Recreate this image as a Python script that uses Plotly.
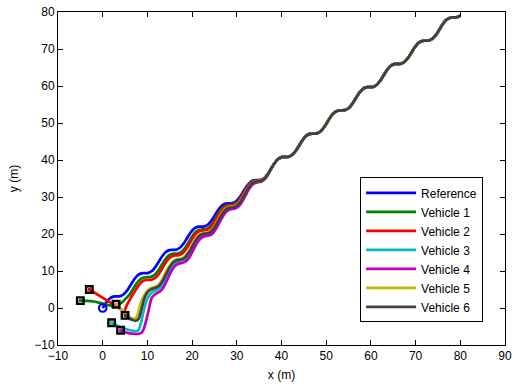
import plotly.graph_objects as go

# Reference trajectory
REF_X = [0.00, 0.79, 1.57, 2.36, 3.14, 3.93, 4.71, 5.50, 6.28, 7.07, 7.85, 8.64, 9.42, 10.21, 11.00, 11.78,
         12.57, 13.35, 14.14, 14.92, 15.71, 16.49, 17.28, 18.06, 18.85, 19.63, 20.42, 21.21, 21.99, 22.78,
         23.56, 24.35, 25.13, 25.92, 26.70, 27.49, 28.27, 29.06, 29.85, 30.63, 31.42, 32.20, 32.99, 33.77,
         34.56, 35.34, 36.13, 36.91, 37.70, 38.48, 39.27, 40.06, 40.84, 41.63, 42.41, 43.20, 43.98, 44.77,
         45.55, 46.34, 47.12, 47.91, 48.69, 49.48, 50.27, 51.05, 51.84, 52.62, 53.41, 54.19, 54.98, 55.76,
         56.55, 57.33, 58.12, 58.90, 59.69, 60.48, 61.26, 62.05, 62.83, 63.62, 64.40, 65.19, 65.97, 66.76,
         67.54, 68.33, 69.12, 69.90, 70.69, 71.47, 72.26, 73.04, 73.83, 74.61, 75.40, 76.18, 76.97, 77.75,
         78.54, 79.33, 80.00]
REF_Y = [0.00, 1.50, 2.57, 3.07, 3.14, 3.22, 3.71, 4.79, 6.28, 7.78, 8.85, 9.35, 9.42, 9.50, 10.00, 11.07,
         12.57, 14.06, 15.14, 15.63, 15.71, 15.78, 16.28, 17.35, 18.85, 20.34, 21.42, 21.92, 21.99, 22.07,
         22.56, 23.64, 25.13, 26.63, 27.70, 28.20, 28.27, 28.35, 28.85, 29.92, 31.42, 32.91, 33.99, 34.48,
         34.56, 34.63, 35.13, 36.20, 37.70, 39.19, 40.27, 40.77, 40.84, 40.92, 41.41, 42.49, 43.98, 45.48,
         46.55, 47.05, 47.12, 47.20, 47.69, 48.77, 50.27, 51.76, 52.84, 53.33, 53.41, 53.48, 53.98, 55.05,
         56.55, 58.04, 59.12, 59.62, 59.69, 59.77, 60.26, 61.34, 62.83, 64.33, 65.40, 65.90, 65.97, 66.05,
         66.54, 67.62, 69.12, 70.61, 71.69, 72.18, 72.26, 72.33, 72.83, 73.90, 75.40, 76.89, 77.97, 78.46,
         78.54, 78.62, 79.01]
TAIL_START = 48  # vehicles have joined the reference path from here on

# Vehicle transients (before they merge onto the reference)
V1_X = [-5.0, -3.5, -2.0, -0.5, 1.0, 2.3, 3.3, 4.3, 5.2, 6.05, 6.83, 7.62, 8.40, 9.19, 9.97, 10.76, 11.55,
        12.33, 13.12, 13.89, 14.67, 15.43, 16.21, 16.98, 17.76, 18.53, 19.30, 20.06, 20.83, 21.61, 22.37,
        23.13, 23.89, 24.65, 25.41, 26.18, 26.94, 27.71, 28.47, 29.24, 30.01, 30.78, 31.55, 32.31, 33.08,
        33.84, 34.61, 35.38, 36.16, 36.92]
V1_Y = [2.0, 1.95, 1.75, 1.35, 0.85, 0.55, 0.75, 1.5, 2.6, 3.69, 5.18, 6.68, 7.75, 8.25, 8.32, 8.40, 8.90,
        9.97, 11.47, 12.99, 14.09, 14.61, 14.71, 14.80, 15.33, 16.42, 17.95, 19.48, 20.60, 21.13, 21.24,
        21.37, 21.91, 23.04, 24.58, 26.12, 27.22, 27.76, 27.87, 27.99, 28.53, 29.63, 31.17, 32.70, 33.81,
        34.34, 34.46, 34.56, 35.08, 36.18]

V2_X = [-3.0, 0.5, 3.5, 4.8, 5.4, 6.40, 7.18, 7.97, 8.75, 9.54, 10.32, 11.10, 11.88, 12.65, 13.42, 14.18,
        14.94, 15.70, 16.46, 17.22, 17.98, 18.74, 19.50, 20.25, 21.01, 21.77, 22.52, 23.28, 24.03, 24.78,
        25.53, 26.29, 27.04, 27.80, 28.55, 29.31, 30.08, 30.83, 31.60, 32.35, 33.12, 33.87, 34.64, 35.40,
        36.17, 36.93]
V2_Y = [5.0, 2.41, 0.18, -0.8, 0.8, 2.99, 4.48, 5.98, 7.05, 7.55, 7.62, 7.72, 8.25, 9.34, 10.87, 12.41,
        13.54, 14.08, 14.21, 14.33, 14.88, 16.00, 17.55, 19.10, 20.24, 20.81, 20.94, 21.08, 21.63, 22.78,
        24.33, 25.89, 27.02, 27.59, 27.72, 27.85, 28.40, 29.52, 31.07, 32.61, 33.74, 34.28, 34.41, 34.52,
        35.05, 36.16]

V3_X = [2.0, 3.2, 4.5, 5.8, 7.0, 7.9, 8.5, 9.1, 9.87, 10.50, 11.14, 11.77, 12.44, 13.10, 13.78, 14.47,
        15.18, 15.89, 16.60, 17.31, 18.03, 18.76, 19.47, 20.20, 20.92, 21.65, 22.37, 23.09, 23.82, 24.54,
        25.26, 25.98, 26.71, 27.43, 28.15, 28.87, 29.61, 30.35, 31.08, 31.82, 32.55, 33.29, 34.02, 34.76,
        35.49, 36.23, 36.96]
V3_Y = [-4.0, -4.7, -5.4, -5.9, -6.2, -6.1, -4.4, -1.1, 2.18, 3.55, 4.35, 4.72, 5.05, 5.80, 7.07, 8.77,
        10.41, 11.64, 12.28, 12.51, 12.71, 13.33, 14.53, 16.15, 17.77, 18.97, 19.60, 19.79, 20.00, 20.61,
        21.82, 23.43, 25.06, 26.25, 26.88, 27.07, 27.25, 27.85, 29.02, 30.62, 32.21, 33.39, 33.98, 34.16,
        34.33, 34.93, 36.10]

V4_X = [4.0, 5.0, 6.0, 7.0, 8.0, 8.7, 9.2, 9.7, 10.3, 10.95, 11.54, 12.12, 12.76, 13.40, 14.03, 14.70,
        15.38, 16.09, 16.80, 17.51, 18.22, 18.93, 19.64, 20.35, 21.07, 21.80, 22.53, 23.25, 23.98, 24.70,
        25.42, 26.13, 26.86, 27.58, 28.31, 29.03, 29.76, 30.49, 31.21, 31.94, 32.66, 33.39, 34.11, 34.84,
        35.55, 36.27, 36.98]
V4_Y = [-6.0, -6.55, -6.85, -7.0, -7.0, -6.7, -5.6, -3.5, -0.5, 2.65, 3.55, 4.02, 4.40, 5.20, 6.57, 8.32,
        10.01, 11.24, 11.88, 12.11, 12.33, 12.98, 14.20, 15.85, 17.46, 18.66, 19.28, 19.47, 19.67, 20.29,
        21.50, 23.13, 24.75, 25.94, 26.56, 26.75, 26.95, 27.57, 28.76, 30.38, 31.99, 33.19, 33.80, 34.00,
        34.21, 34.85, 36.06]

V5_X = [3.0, 3.8, 4.6, 5.4, 6.2, 7.0, 7.6, 8.05, 8.58, 9.27, 9.95, 10.64, 11.32, 12.01, 12.70, 13.38,
        14.07, 14.80, 15.54, 16.25, 16.96, 17.69, 18.43, 19.16, 19.90, 20.63, 21.37, 22.11, 22.84, 23.58,
        24.31, 25.05, 25.78, 26.52, 27.25, 27.99, 28.72, 29.47, 30.23, 30.97, 31.72, 32.46, 33.22, 33.96,
        34.71, 35.45, 36.21, 36.95]
V5_Y = [1.0, 0.1, -0.9, -1.9, -2.6, -2.9, -2.4, -0.7, 1.68, 3.38, 4.65, 5.35, 5.62, 5.90, 6.60, 7.87,
        9.57, 11.16, 12.34, 12.98, 13.21, 13.38, 13.98, 15.15, 16.75, 18.34, 19.52, 20.12, 20.29, 20.47,
        21.06, 22.24, 23.83, 25.43, 26.60, 27.20, 27.37, 27.53, 28.10, 29.25, 30.82, 32.39, 33.54, 34.11,
        34.26, 34.41, 34.98, 36.13]

V6_X = [5.0, 5.8, 6.6, 7.4, 8.0, 8.5, 8.95, 9.45, 10.10, 10.79, 11.47, 12.16, 12.85, 13.53, 14.22, 14.93,
        15.64, 16.35, 17.06, 17.79, 18.53, 19.26, 20.00, 20.73, 21.47, 22.21, 22.94, 23.68, 24.41, 25.15,
        25.88, 26.62, 27.35, 28.09, 28.82, 29.56, 30.30, 31.03, 31.77, 32.50, 33.24, 33.98, 34.74, 35.47,
        36.22, 36.95]
V6_Y = [-2.0, -2.7, -3.2, -3.45, -3.0, -1.2, 1.0, 3.03, 4.35, 5.05, 5.32, 5.60, 6.30, 7.57, 9.27, 10.91,
        12.14, 12.78, 13.01, 13.18, 13.78, 14.95, 16.55, 18.14, 19.32, 19.92, 20.09, 20.27, 20.86, 22.04,
        23.63, 25.23, 26.40, 27.00, 27.17, 27.35, 27.95, 29.12, 30.72, 32.31, 33.49, 34.06, 34.21, 34.38,
        34.96, 36.12]

NAMES = ["Vehicle 1", "Vehicle 2", "Vehicle 3", "Vehicle 4", "Vehicle 5", "Vehicle 6"]
COLORS = ["#008000", "#ff0000", "#00bfbf", "#bf00bf", "#bfbf00", "#404040"]
VEH = [(V1_X, V1_Y), (V2_X, V2_Y), (V3_X, V3_Y), (V4_X, V4_Y), (V5_X, V5_Y), (V6_X, V6_Y)]

FONT = "Liberation Sans, Arial, Helvetica, sans-serif"
LW = 2.7

fig = go.Figure()
fig.add_trace(go.Scatter(x=REF_X, y=REF_Y, mode="lines", name="Reference",
                         line=dict(color="#0000ff", width=LW, shape="spline")))
for (vx, vy), name, col in zip(VEH, NAMES, COLORS):
    fig.add_trace(go.Scatter(x=vx + REF_X[TAIL_START:], y=vy + REF_Y[TAIL_START:], mode="lines",
                             name=name, line=dict(color=col, width=LW, shape="spline")))

# start markers
fig.add_trace(go.Scatter(x=[REF_X[0]], y=[REF_Y[0]], mode="markers", showlegend=False,
                         marker=dict(symbol="circle-open", size=7.5, color="#0000ff", line=dict(width=2.2))))
fig.add_trace(go.Scatter(x=[v[0][0] for v in VEH], y=[v[1][0] for v in VEH], mode="markers",
                         showlegend=False,
                         marker=dict(symbol="square-open", size=6.5, color="black", line=dict(width=2.4))))
fig.add_trace(go.Scatter(x=[v[0][0] for v in VEH], y=[v[1][0] for v in VEH], mode="markers",
                         showlegend=False, marker=dict(symbol="square", size=3, color=COLORS)))

axis_common = dict(showgrid=False, zeroline=False, showline=True, linecolor="black", linewidth=1,
                   mirror="ticks", ticks="inside", ticklen=5, tickcolor="black", automargin=False,
                   tickfont=dict(family=FONT, size=12, color="black"), dtick=10, tick0=0)
fig.update_layout(
    width=514, height=389,
    margin=dict(l=58, r=9, t=12, b=44),
    paper_bgcolor="white", plot_bgcolor="white",
    font=dict(family=FONT, size=12, color="black"),
    xaxis=dict(range=[-10, 90], title=dict(text="x (m)", standoff=8, font=dict(size=12)), **axis_common),
    yaxis=dict(range=[-10, 80], title=dict(text="y (m)", standoff=13, font=dict(size=12)), **axis_common),
    legend=dict(x=0.951, y=0.068, xanchor="right", yanchor="bottom", bgcolor="white",
                bordercolor="black", borderwidth=1, font=dict(family=FONT, size=12, color="black"),
                tracegroupgap=0, itemwidth=50),
    showlegend=True,
)
# remove the default page margin so the figure fills the window exactly
fig.write_html("out.html", config={"displayModeBar": False},
               post_script="document.body.style.margin='0px';")
